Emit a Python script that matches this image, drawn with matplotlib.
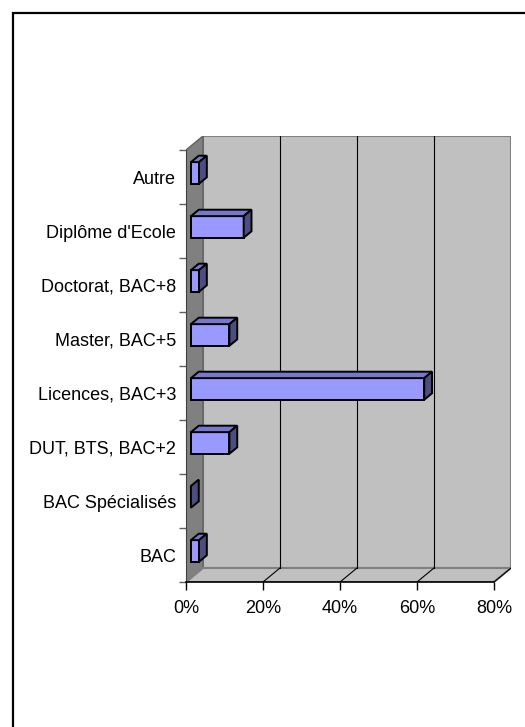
import matplotlib
matplotlib.use('Agg')
import matplotlib.pyplot as plt
from matplotlib.patches import Polygon, Rectangle
import numpy as np

# data (percent of respondents)
categories = ["BAC", "BAC Spécialisés", "DUT, BTS, BAC+2", "Licences, BAC+3",
              "Master, BAC+5", "Doctorat, BAC+8", "Diplôme d'Ecole", "Autre"]
values = [2.1, 0.0, 10.0, 60.6, 10.0, 2.1, 13.7, 2.1]
x_ticks = [0, 20, 40, 60, 80]
x_labels = ["0%", "20%", "40%", "60%", "80%"]

plt.rcParams['font.family'] = ['Liberation Sans', 'DejaVu Sans']

W, H = 525, 727
fig = plt.figure(figsize=(W / 100, H / 100), dpi=100)

# outer frame, cut off at the right and bottom
fig.add_artist(Rectangle((13 / W, -0.1), 1.2, 1 - 13 / H + 0.1,
                         transform=fig.transFigure, fill=False, lw=1.6, ec='black'))

# plot area (front plane 186..494 px, back plane shifted by 17, -14 px)
ax = fig.add_axes([186 / W, (H - 582) / H, (511 - 186) / W, (582 - 136) / H])
xmax = x_ticks[-1]
n = len(categories)
DX = xmax * 17 / 308
DY = n * 14 / 432
ax.set_xlim(0, xmax + DX)
ax.set_ylim(-0.5, n - 0.5 + DY)
ax.patch.set_visible(False)

wall = '#C0C0C0'
side_wall = '#808080'
y0, y1 = -0.5, n - 0.5

# back wall
ax.add_patch(Polygon([(DX, y0 + DY), (xmax + DX, y0 + DY), (xmax + DX, y1 + DY), (DX, y1 + DY)],
                     closed=True, fc=wall, ec='#808080', lw=1.5, zorder=1))
# left side wall
ax.add_patch(Polygon([(0, y0), (DX, y0 + DY), (DX, y1 + DY), (0, y1)],
                     closed=True, fc=side_wall, ec='#606060', lw=1, zorder=1))
# floor
ax.add_patch(Polygon([(0, y0), (xmax, y0), (xmax + DX, y0 + DY), (DX, y0 + DY)],
                     closed=True, fc=wall, ec='#808080', lw=1.5, zorder=1))

# gridlines on back wall and floor
for t in x_ticks[1:-1]:
    ax.plot([t + DX, t + DX], [y0 + DY, y1 + DY], color='black', lw=0.8, zorder=2)
for t in x_ticks[1:]:
    ax.plot([t, t + DX], [y0, y0 + DY], color='black', lw=0.8, zorder=2)

# 3d bars
d1, d2 = 0.29, 0.75
bh = 0.4
ox, oy = (d2 - d1) * DX, (d2 - d1) * DY
for i, v in enumerate(values):
    bx = d1 * DX
    by = i - bh / 2 + d1 * DY
    front = [(bx, by), (bx + v, by), (bx + v, by + bh), (bx, by + bh)]
    top = [(bx, by + bh), (bx + v, by + bh), (bx + v + ox, by + bh + oy), (bx + ox, by + bh + oy)]
    side = [(bx + v, by), (bx + v + ox, by + oy), (bx + v + ox, by + bh + oy), (bx + v, by + bh)]
    ax.add_patch(Polygon(front, closed=True, fc='#9999FF', ec='black', lw=1.4, zorder=3))
    ax.add_patch(Polygon(top, closed=True, fc='#7777CC', ec='black', lw=1.4, zorder=3))
    ax.add_patch(Polygon(side, closed=True, fc='#4D4D80', ec='black', lw=1.4, zorder=3))

# axes
for s in ['top', 'right']:
    ax.spines[s].set_visible(False)
ax.spines['bottom'].set_bounds(0, xmax)
ax.spines['left'].set_bounds(y0, y1)
ax.spines['bottom'].set_linewidth(1.2)
ax.spines['left'].set_color('#404040')
ax.set_xticks(x_ticks, labels=x_labels)
ax.tick_params(axis='x', direction='out', length=6, width=1, pad=7, labelsize=13)
ax.set_yticks(np.arange(-0.5, n, 1.0), labels=[''] * (n + 1))
ax.set_yticks(range(n), labels=categories, minor=True)
ax.tick_params(axis='y', which='major', direction='out', length=5, width=1, color='#606060')
ax.tick_params(axis='y', which='minor', length=0, pad=7, labelsize=13)

fig.savefig('out.png', dpi=100)
